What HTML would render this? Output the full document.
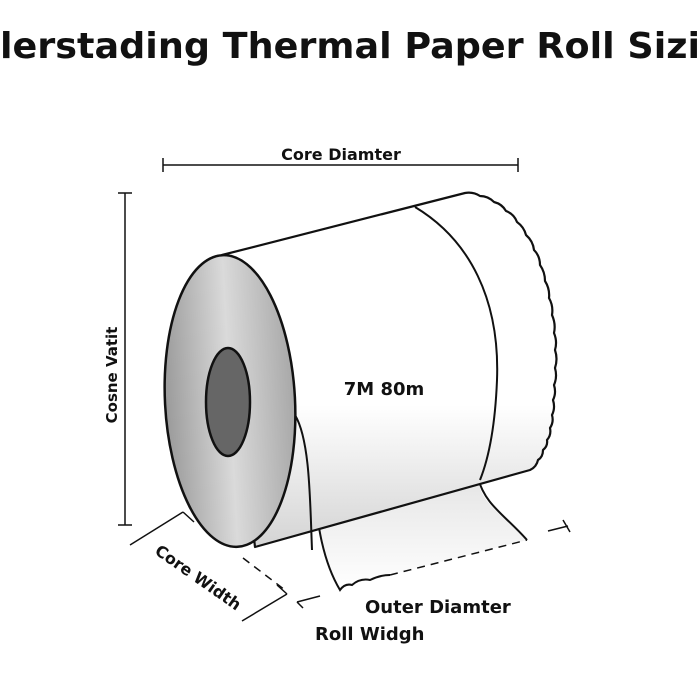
<!DOCTYPE html>
<html><head><style>
html,body{margin:0;padding:0;background:#fff;}
svg{display:block;}
text{font-family:"DejaVu Sans","Liberation Sans",sans-serif;font-weight:bold;fill:#111;}
</style></head><body>
<svg width="700" height="700" viewBox="0 0 700 700">
<defs>
<linearGradient id="face" x1="0" y1="0" x2="1" y2="0">
<stop offset="0" stop-color="#9a9a9a"/><stop offset="0.5" stop-color="#dadada"/><stop offset="1" stop-color="#a8a8a8"/>
</linearGradient>
<linearGradient id="body" x1="0" y1="0" x2="0" y2="1">
<stop offset="0" stop-color="#fff"/><stop offset="0.6" stop-color="#fff"/><stop offset="1" stop-color="#d4d4d4"/>
</linearGradient>
<linearGradient id="strip" x1="0" y1="0" x2="0" y2="1">
<stop offset="0" stop-color="#d8d8d8"/><stop offset="1" stop-color="#fff"/>
</linearGradient>
</defs>
<text x="0" y="58" font-size="36" textLength="700" lengthAdjust="spacingAndGlyphs">lerstading Thermal Paper Roll Sizi</text>

<g stroke="#111" stroke-width="1.5" fill="none">
<line x1="163" y1="165" x2="518" y2="165"/><line x1="163" y1="158" x2="163" y2="172"/><line x1="518" y1="158" x2="518" y2="172"/>
<line x1="125" y1="193" x2="125" y2="525"/><line x1="118" y1="193" x2="132" y2="193"/><line x1="118" y1="525" x2="132" y2="525"/>
<line x1="130" y1="545" x2="183" y2="512"/><line x1="183" y1="512" x2="194" y2="522"/>
<line x1="242" y1="621" x2="287" y2="594"/><line x1="287" y1="594" x2="277" y2="585"/>
<line x1="243" y1="558" x2="285" y2="590" stroke-dasharray="8,6"/>
<line x1="297" y1="602" x2="320" y2="596"/><line x1="297" y1="602" x2="303" y2="608"/>
<line x1="548" y1="531" x2="568" y2="526"/><line x1="563" y1="520" x2="570" y2="532"/>
</g>
<text x="341" y="160" font-size="16" text-anchor="middle">Core Diamter</text>
<text transform="translate(117,375) rotate(-90)" font-size="15" text-anchor="middle">Cosne Vatit</text>
<text transform="translate(195,582) rotate(35)" font-size="16" text-anchor="middle">Core Width</text>
<text x="365" y="613" font-size="18">Outer Diamter</text>
<text x="315" y="640" font-size="18">Roll Widgh</text>

<path d="M300 420 C318 470 310 540 340 590 Q360 580 390 575 L527 540 C505 515 480 505 478 478 Z" fill="url(#strip)" stroke="none"/>
<path d="M300 420 C318 470 310 540 340 590 Q345 583 352 585 Q360 578 370 580 Q380 575 390 575" fill="none" stroke="#111" stroke-width="2"/>
<path d="M390 575 L527 540" stroke="#111" stroke-width="1.5" stroke-dasharray="8,6" fill="none"/>
<path d="M478 478 C485 505 505 515 527 540" fill="none" stroke="#111" stroke-width="2"/>

<path d="M222 255 L465 193 Q473 191.5 480 196 Q488 196 494 202 Q502 204 506 211 Q514 214 517 222 Q524 227 526 235 Q533 241 534 250 Q540 256 540 265 Q545 272 545 281 Q550 289 549 298 Q553.5 306 552 315 Q556 324 554 333 Q557.5 341.5 555 350 Q558 359 555 368 Q557.5 377 554 385 Q556.5 393 553 400 Q555.5 408 552 415 Q554 422 550 428 Q551.5 435 547 440 Q548 446 543 450 Q543 457 538 460 Q536.5 467 530 470 L255 547 Z" fill="url(#body)" stroke="#111" stroke-width="2.2" stroke-linejoin="round"/>
<path d="M415 207 C470 240 500 300 497 380 C495 430 488 460 480 480" fill="none" stroke="#111" stroke-width="2"/>
<path d="M295 415 C310 440 310 500 312 550" fill="none" stroke="#111" stroke-width="2"/>

<ellipse cx="230" cy="401" rx="65" ry="146" transform="rotate(-3 230 401)" fill="url(#face)" stroke="#111" stroke-width="2.5"/>
<ellipse cx="228" cy="402" rx="22" ry="54" fill="#666" stroke="#111" stroke-width="2.5"/>
<text x="384" y="395" font-size="18" text-anchor="middle">7M 80m</text>
</svg>
</body></html>
